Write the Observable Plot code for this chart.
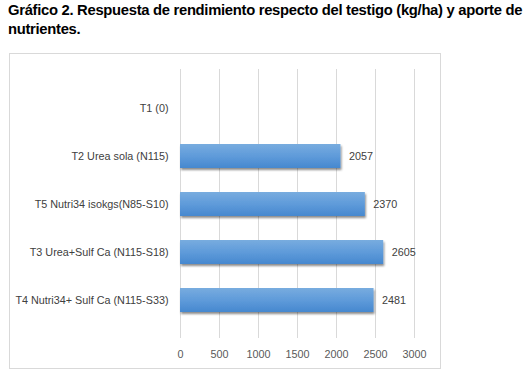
<!DOCTYPE html>
<html><head><meta charset="utf-8">
<script src="https://cdn.jsdelivr.net/npm/d3@7"></script>
<script src="https://cdn.jsdelivr.net/npm/@observablehq/plot@0.6"></script>
<style>
body{margin:0;background:#fff;font-family:"Liberation Sans",sans-serif;}
#title{position:absolute;left:8px;top:1px;width:521px;font-weight:bold;font-size:14.8px;line-height:19px;color:#000;letter-spacing:-0.3px;}
#box{position:absolute;left:9px;top:53px;width:430px;height:314px;border:1px solid #d9d9d9;}
#box svg{position:absolute;left:0;top:0;}
</style></head><body>
<div id="title">Gráfico 2. Respuesta de rendimiento respecto del testigo (kg/ha) y aporte de nutrientes.</div>
<div id="box"></div>
<script>
const categories = ["T1 (0)", "T2 Urea sola (N115)", "T5 Nutri34 isokgs(N85-S10)", "T3 Urea+Sulf Ca (N115-S18)", "T4 Nutri34+ Sulf Ca (N115-S33)"];
const values = [0, 2057, 2370, 2605, 2481];
const xTicks = [0, 500, 1000, 1500, 2000, 2500, 3000];
const data = categories.map((c, i) => ({cat: c, value: values[i]}));

const chart = Plot.plot({
  width: 430, height: 314,
  marginLeft: 170, marginRight: 26, marginTop: 15, marginBottom: 30,
  style: {fontFamily: "Liberation Sans, sans-serif", fontSize: "10.8px", color: "#404040", background: "transparent"},
  x: {domain: [0, 3000], ticks: xTicks, tickSize: 0, tickPadding: 12, label: null, tickFormat: d => String(d)},
  y: {domain: categories, padding: 0.5, tickSize: 0, tickPadding: 12, label: null},
  marks: [
    Plot.gridX(xTicks, {stroke: "#d9d9d9", strokeOpacity: 1, strokeWidth: 1}),
    Plot.barX(data, {y: "cat", x: "value", fill: "url(#barGrad)", filter: d => d.value > 0}),
    Plot.text(data, {y: "cat", x: "value", text: d => String(d.value), filter: d => d.value > 0, dx: 8, textAnchor: "start", fill: "#404040", fontSize: 10.8})
  ]
});
const ns = "http://www.w3.org/2000/svg";
const defs = document.createElementNS(ns, "defs");
defs.innerHTML = `<linearGradient id="barGrad" x1="0" y1="0" x2="0" y2="1">
  <stop offset="0" stop-color="#78acdf"/><stop offset="0.5" stop-color="#5f9bda"/><stop offset="1" stop-color="#4688cf"/></linearGradient>
  <filter id="barShadow" x="-5%" y="-20%" width="115%" height="160%"><feDropShadow dx="1" dy="2" stdDeviation="1" flood-color="#000" flood-opacity="0.45"/></filter>`;
chart.insertBefore(defs, chart.firstChild);
chart.querySelectorAll("rect").forEach(r => { if (r.getAttribute("fill") === "url(#barGrad)" || r.parentNode.getAttribute("fill") === "url(#barGrad)") r.setAttribute("filter", "url(#barShadow)"); });
chart.querySelectorAll("[aria-label='x-axis tick label'] text, [aria-label='x-axis tick label']").forEach(e => e.setAttribute("fill", "#595959"));
document.getElementById("box").appendChild(chart);
</script>
</body></html>
